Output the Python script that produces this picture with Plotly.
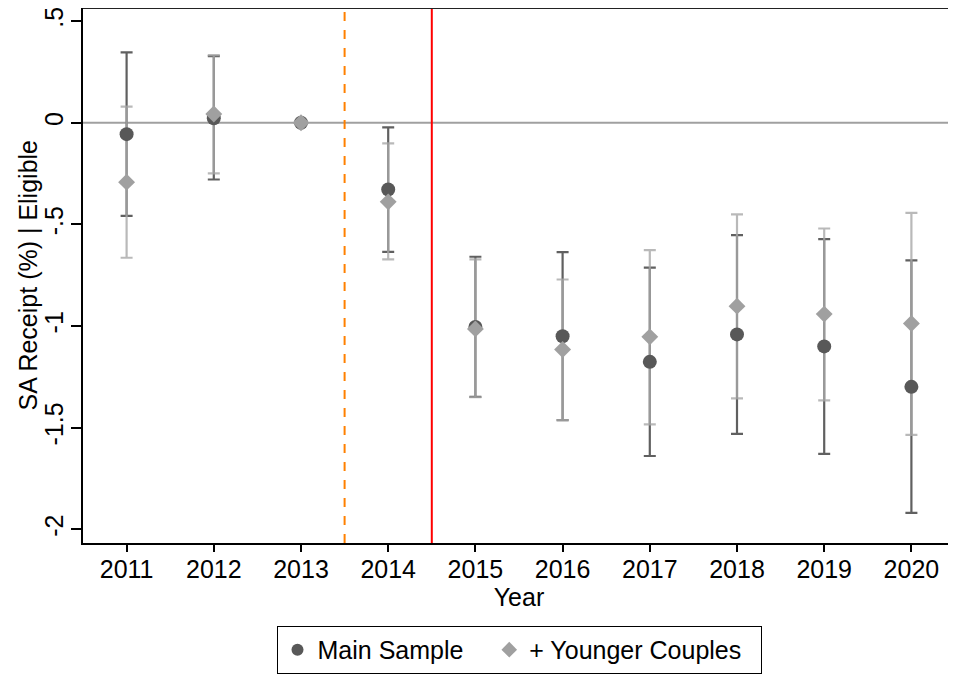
import plotly.graph_objects as go

years = [2011, 2012, 2013, 2014, 2015, 2016, 2017, 2018, 2019, 2020]
tick_labels = ["2011", "2012", "2013", "2014", "2015", "2016", "2017", "2018", "2019", "2020"]

main_point = [-0.056, 0.022, 0.0, -0.328, -1.004, -1.050, -1.176, -1.041, -1.100, -1.299]
main_lower = [-0.458, -0.279, 0.0, -0.635, -1.348, -1.463, -1.639, -1.530, -1.629, -1.919]
main_upper = [0.346, 0.328, 0.0, -0.023, -0.659, -0.636, -0.713, -0.553, -0.572, -0.677]

young_point = [-0.292, 0.043, 0.0, -0.389, -1.014, -1.115, -1.053, -0.902, -0.941, -0.987]
young_lower = [-0.664, -0.249, 0.0, -0.672, -1.350, -1.463, -1.484, -1.356, -1.365, -1.535]
young_upper = [0.079, 0.333, 0.0, -0.101, -0.672, -0.771, -0.626, -0.451, -0.520, -0.443]

y_tickvals = [0.5, 0, -0.5, -1, -1.5, -2]
y_ticktext = [".5", "0", "-.5", "-1", "-1.5", "-2"]

FONT = "Liberation Sans, Arial, sans-serif"
FS = 25
NB = "\u00a0"

def err(point, lower, upper, color):
    return dict(type="data", symmetric=False,
                array=[u - p for u, p in zip(upper, point)],
                arrayminus=[p - l for p, l in zip(point, lower)],
                color=color, thickness=2.2, width=6)

fig = go.Figure()

# error bars first (main under younger)
fig.add_trace(go.Scatter(x=years, y=main_point, mode="markers",
                         marker=dict(size=1, color="rgba(0,0,0,0)"),
                         error_y=err(main_point, main_lower, main_upper, "#606060"),
                         showlegend=False, hoverinfo="skip"))
fig.add_trace(go.Scatter(x=years, y=young_point, mode="markers",
                         marker=dict(size=1, color="rgba(0,0,0,0)"),
                         error_y=err(young_point, young_lower, young_upper, "rgba(168,168,168,0.8)"),
                         showlegend=False, hoverinfo="skip"))
# markers
fig.add_trace(go.Scatter(x=years, y=main_point, mode="markers", name="Main Sample" + NB * 3,
                         marker=dict(symbol="circle", size=14, color="#585858")))
fig.add_trace(go.Scatter(x=years, y=young_point, mode="markers", name="+ Younger Couples" + NB * 2,
                         marker=dict(symbol="diamond", size=13, color="#a0a0a0")))

# reference lines
fig.add_shape(type="line", xref="paper", yref="y", x0=0, x1=1, y0=0, y1=0,
              line=dict(color="#a0a0a0", width=2), layer="below")
fig.add_shape(type="line", xref="x", yref="paper", x0=2013.5, x1=2013.5, y0=0, y1=1,
              line=dict(color="#ff8000", width=2, dash="dash"))
fig.add_shape(type="line", xref="x", yref="paper", x0=2014.5, x1=2014.5, y0=0, y1=1,
              line=dict(color="#ff0000", width=2))
# right border (light)
fig.add_shape(type="line", xref="paper", yref="paper", x0=1, x1=1, y0=0, y1=1,
              line=dict(color="#b0b0b0", width=1.5))
# top border
fig.add_shape(type="line", xref="paper", yref="paper", x0=0, x1=1, y0=1, y1=1,
              line=dict(color="#222222", width=2))

# y-axis title as rotated text
fig.add_annotation(text="SA Receipt (%) | Eligible", xref="paper", yref="paper",
                   x=(27 - 83) / 872, y=0.5, xanchor="center", yanchor="middle",
                   textangle=-90, showarrow=False, font=dict(size=FS))

# the page body has an 8px margin, so the figure is sized/offset to compensate
fig.update_layout(
    width=948, height=669,
    margin=dict(l=75, r=1, t=0, b=134, autoexpand=False),
    paper_bgcolor="white", plot_bgcolor="white",
    font=dict(family=FONT, size=FS, color="black"),
    showlegend=True,
    legend=dict(orientation="h", x=0.5, xanchor="center", y=-0.155, yanchor="top",
                bordercolor="black", borderwidth=1, font=dict(size=FS),
                itemsizing="constant"),
)
fig.update_xaxes(range=[2010.5, 2020.5], tickvals=years, ticktext=tick_labels,
                 ticks="outside", ticklen=7, tickwidth=1.5, tickcolor="black",
                 ticklabelstandoff=-4,
                 showline=True, linecolor="black", linewidth=2, mirror=False,
                 showgrid=False, zeroline=False, automargin=False,
                 title=dict(text="Year", standoff=0, font=dict(size=FS)),
                 tickfont=dict(size=FS))
fig.update_yaxes(range=[-2.067, 0.5645], tickvals=y_tickvals, ticktext=y_ticktext,
                 tickangle=-90, ticklabelstandoff=-2, ticklabeloverflow="allow",
                 ticks="outside", ticklen=10, tickwidth=1.5, tickcolor="black",
                 showline=True, linecolor="black", linewidth=2,
                 showgrid=False, zeroline=False, automargin=False,
                 tickfont=dict(size=FS))

fig.write_html("out.html")
